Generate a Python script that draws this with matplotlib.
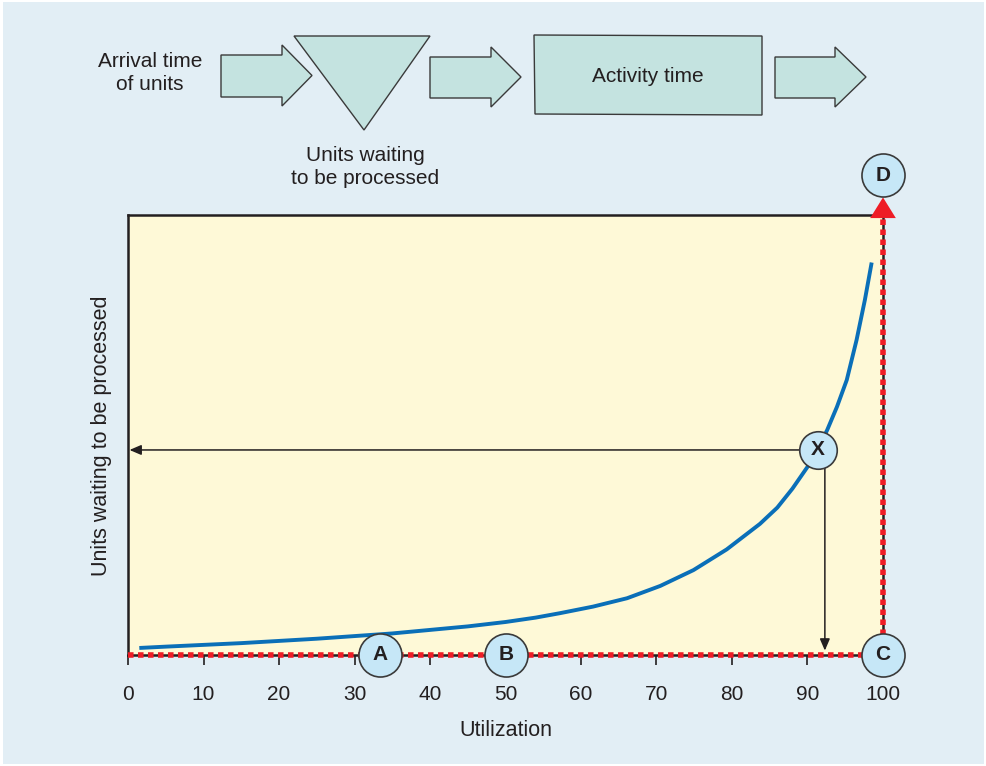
import matplotlib.pyplot as plt
from matplotlib.patches import Polygon, Rectangle

plt.rcParams['font.family'] = ['Liberation Sans', 'DejaVu Sans']

# utilization (%) vs units waiting
util = [1.5, 5, 10, 15, 20, 25, 30, 35, 40, 45, 50, 54, 57.2, 61.6, 66.1, 70.5, 74.9,
        79.3, 83.7, 86, 88, 90.1, 91.4, 92.6, 93.9, 95.2, 96.5, 97.6, 98.5]
waiting = [1.6, 1.9, 2.3, 2.7, 3.2, 3.7, 4.3, 4.9, 5.7, 6.5, 7.5, 8.5, 9.5, 11.0, 12.9,
           15.7, 19.3, 24.0, 29.8, 33.5, 37.8, 43.0, 47.0, 51.1, 56.4, 62.5, 71.6, 80.7, 89.2]
ticks = [0, 10, 20, 30, 40, 50, 60, 70, 80, 90, 100]

# labelled points on the chart
marks = ["A", "B", "C", "D"]
mark_u = [33.4, 50.1, 100, 100]
mark_q = [0, 0, 0, 109]
x_u, x_q = 91.4, 46.6
x_drop = 92.3

bg = "#e2eef5"
yellow = "#fef9d7"
circ = "#c6e7f7"
teal = "#c4e3e0"
red = "#ee1c25"
blue = "#0a6fb8"
ink = "#231f20"

fig = plt.figure(figsize=(9.87, 7.66), dpi=100)
fig.patch.set_facecolor("white")
fig.patches.append(Rectangle((0.003, 0.003), 0.994, 0.994, transform=fig.transFigure,
                             facecolor=bg, edgecolor="none", zorder=-10))

ax = fig.add_axes([128 / 987, 111 / 766, 755 / 987, 440 / 766])
ax.set_facecolor(yellow)
ax.set_xlim(0, 100)
ax.set_ylim(0, 100)
for s in ax.spines.values():
    s.set_linewidth(1.8)
    s.set_color(ink)
ax.set_xticks(ticks)
ax.set_xticklabels([str(t) for t in ticks], fontsize=15, color=ink)
ax.set_yticks([])
ax.tick_params(axis="x", direction="out", length=7.5, width=1.2, pad=14, colors=ink)

# queue curve
ax.plot(util, waiting, color=blue, lw=2.8, solid_capstyle="butt",
        solid_joinstyle="round", zorder=3)

# red dashed edges
ax.plot([0, 100], [0, 0], color=red, lw=4, ls=(0, (1.0, 0.8)), clip_on=False, zorder=4)
ax.plot([100, 100], [0, 99.5], color=red, lw=4, ls=(0, (1.0, 0.8)), clip_on=False, zorder=4)
ax.add_patch(Polygon([[98.3, 99.3], [101.7, 99.3], [100, 104]], closed=True,
                     facecolor=red, edgecolor="none", clip_on=False, zorder=5))

# read-off arrows from X
ax.annotate("", xy=(0.2, x_q), xytext=(x_u, x_q),
            arrowprops=dict(arrowstyle="-|>,head_length=0.7,head_width=0.3",
                            color=ink, lw=1.1, shrinkA=0, shrinkB=0), zorder=4)
ax.annotate("", xy=(x_drop, 1.0), xytext=(x_drop, x_q),
            arrowprops=dict(arrowstyle="-|>,head_length=0.7,head_width=0.3",
                            color=ink, lw=1.1, shrinkA=0, shrinkB=0), zorder=4)

# circles
for m, u, q in zip(marks, mark_u, mark_q):
    ax.plot(u, q, "o", ms=31, mfc=circ, mec="#3a3a3a", mew=1.2, clip_on=False, zorder=6)
    ax.text(u, q, m, ha="center", va="center", fontsize=15, fontweight="bold",
            color=ink, zorder=7, clip_on=False)
ax.plot(x_u, x_q, "o", ms=27, mfc=circ, mec="#3a3a3a", mew=1.2, clip_on=False, zorder=6)
ax.text(x_u, x_q, "X", ha="center", va="center", fontsize=15, fontweight="bold",
        color=ink, zorder=7)

fig.text(506 / 987, 1 - 731 / 766, "Utilization", ha="center", va="center",
         fontsize=15.5, color=ink)
fig.text(102 / 987, 1 - 436 / 766, "Units waiting to be processed", ha="center",
         va="center", rotation=90, fontsize=15.5, color=ink)

# process diagram on top, in pixel space
top = fig.add_axes([0, 0, 1, 1], zorder=-1)
top.set_xlim(0, 987)
top.set_ylim(766, 0)
top.axis("off")
top.patch.set_alpha(0)


def block_arrow(x0, x1, x2, yb0, yb1, yh0, yh1):
    yc = (yh0 + yh1) / 2
    pts = [[x0, yb0], [x1, yb0], [x1, yh0], [x2, yc], [x1, yh1], [x1, yb1], [x0, yb1]]
    top.add_patch(Polygon(pts, closed=True, facecolor=teal, edgecolor="#3a3a3a", lw=1.0))


block_arrow(221, 282, 312, 55, 97, 45, 106)
block_arrow(430, 491, 521, 57, 98, 47, 107)
block_arrow(775, 835, 866, 57, 98, 47, 107)
top.add_patch(Polygon([[294, 36], [430, 36], [364, 130]], closed=True,
                      facecolor=teal, edgecolor="#3a3a3a", lw=1.0))
top.add_patch(Polygon([[534, 35], [762, 36], [762, 115], [535, 114]], closed=True,
                      facecolor=teal, edgecolor="#3a3a3a", lw=1.0))
top.text(150, 73, "Arrival time\nof units", ha="center", va="center", fontsize=15,
         color=ink, linespacing=1.3)
top.text(648, 77, "Activity time", ha="center", va="center", fontsize=15, color=ink)
top.text(365, 167, "Units waiting\nto be processed", ha="center", va="center",
         fontsize=15, color=ink, linespacing=1.3)

fig.savefig("out.png", dpi=100, facecolor=fig.get_facecolor())
